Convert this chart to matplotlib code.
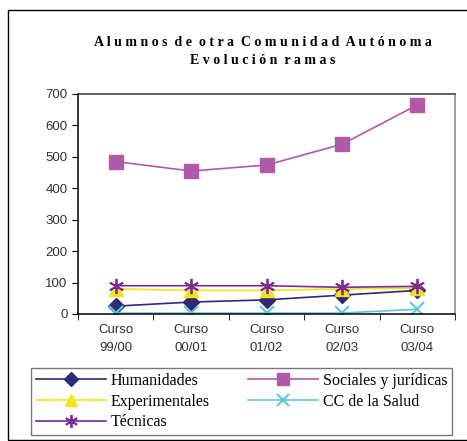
import matplotlib.pyplot as plt
from matplotlib.patches import Rectangle

## data
cursos = ["Curso\n99/00", "Curso\n00/01", "Curso\n01/02", "Curso\n02/03", "Curso\n03/04"]
humanidades = [25, 38, 45, 60, 75]
sociales = [485, 455, 474, 540, 665]
experimentales = [80, 75, 75, 80, 82]
salud = [3, 3, 3, 3, 15]
tecnicas = [90, 90, 90, 85, 88]

W, H = 467, 441
fig = plt.figure(figsize=(W / 100, H / 100), dpi=100)
fig.patch.set_facecolor("white")

## outer frame
fig.patches.append(Rectangle((8 / W, 0.002), 1.2, (H - 11) / H, transform=fig.transFigure,
                             fill=False, edgecolor="black", linewidth=1.0))

ax = fig.add_axes([78 / W, 1 - 314 / H, (455 - 78) / W, (314 - 94) / H])
x = range(len(cursos))

h1, = ax.plot(x, humanidades, color="#2E2A78", marker="D", markersize=8, linewidth=1.2)
h2, = ax.plot(x, sociales, color="#B05AA8", marker="s", markersize=10, linewidth=1.2)
h3, = ax.plot(x, experimentales, color="#F2E41C", marker="^", markersize=10, linewidth=1.2)
h4, = ax.plot(x, salud, color="#5CC8DA", marker="x", markersize=10, markeredgewidth=1.5, linewidth=1.2)
h5, = ax.plot(x, tecnicas, color="#7B2C92", marker=(6, 2, 0), markersize=11, markeredgewidth=1.3, linewidth=1.2)

ax.set_xlim(-0.5, 4.5)
ax.set_ylim(0, 700)
ax.set_yticks(range(0, 701, 100))
ax.set_xticks(x)
ax.set_xticklabels(cursos, fontfamily="Liberation Sans", fontsize=9.5, color="#333333", linespacing=1.75)
ax.set_xticks([i - 0.5 for i in range(6)], minor=True)
ax.tick_params(axis="x", which="major", length=0, pad=7)
ax.tick_params(axis="x", which="minor", length=4, direction="out")
ax.tick_params(axis="y", length=4, direction="out", labelsize=9.5, labelcolor="#333333")
for lab in ax.get_yticklabels():
    lab.set_fontfamily("Liberation Sans")

ax.spines["left"].set_color("black")
ax.spines["bottom"].set_color("black")
ax.spines["top"].set_color("#333333")
ax.spines["right"].set_color("#888888")
for s in ax.spines.values():
    s.set_linewidth(1.1)

fig.text(263 / W, 1 - 42 / H, "A l u m n o s  d e  o t r a  C o m u n i d a d  A u t ó n o m a",
         ha="center", va="center", fontsize=10, fontweight="bold", family="Liberation Serif")
fig.text(263 / W, 1 - 61 / H, "E v o l u c i ó n  r a m a s",
         ha="center", va="center", fontsize=10, fontweight="bold", family="Liberation Serif")

etiquetas = ["Humanidades", "Experimentales", "Técnicas", "Sociales y jurídicas", "CC de la Salud"]
leg = fig.legend([h1, h3, h5, h2, h4], etiquetas,
                 ncol=2, loc="upper left",
                 bbox_to_anchor=(31 / W, 1 - 368 / H - 0.01, (452 - 31) / W, 0.01),
                 mode="expand", frameon=True, fancybox=False, edgecolor="#555555",
                 prop={"family": "Liberation Serif", "size": 11.5}, handlelength=4.4,
                 labelspacing=0.3, borderpad=0.3, handletextpad=0.3, markerscale=0.85,
                 borderaxespad=0)
leg.get_frame().set_linewidth(1.0)

fig.savefig("out.png", dpi=100)
